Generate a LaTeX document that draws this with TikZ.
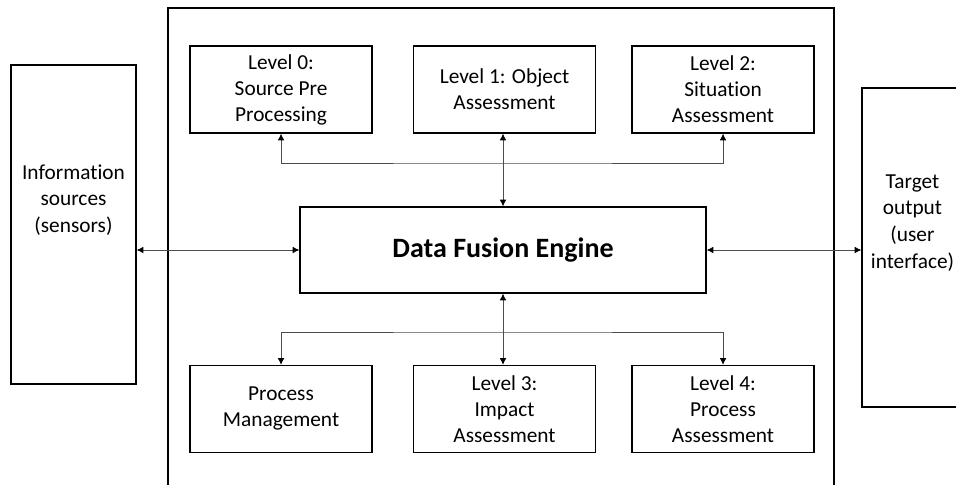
\documentclass[tikz,border=0pt]{standalone}
\usepackage{fontspec}
\setmainfont{Carlito}[Ligatures=NoCommon]
\usetikzlibrary{arrows.meta}

\begin{document}
\begin{tikzpicture}[x=0.75pt, y=-0.75pt]
        \tikzstyle{block} = [rectangle, draw, line width=1pt, minimum width=136.5pt, minimum height=65.25pt, align=center, inner sep=1pt, font=\fontsize{16}{19.5}\selectfont]
        \tikzstyle{engine} = [rectangle, draw, line width=1pt, minimum width=304.5pt, minimum height=64.5pt, font=\fontsize{21}{25}\selectfont\bfseries]
        \tikzstyle{side} = [rectangle, draw, line width=1pt, minimum height=239.25pt]
        \tikzstyle{side text} = [align=center, yshift=18.5pt, font=\fontsize{16}{20}\selectfont]
        \tikzstyle{line} = [draw, black!70, line width=0.6pt, {Latex[length=5pt,width=5pt,black]}-{Latex[length=5pt,width=5pt,black]}]

    \path [use as bounding box, clip] (0,0) rectangle (956,485);
    % frame round the fusion levels
    \draw [line width=1pt] (168,8) rectangle (834,500);

    \node [engine] (engine) at (503,250) {Data Fusion Engine};
    \node [block] (level 1) at (504.5,89.5) {Level 1: Object\\Assessment};
    \node [block, left of=level 1, node distance=167.6pt] (level 0) {Level 0:\\Source Pre\\Processing};
    \node [block, right of=level 1, node distance=163.9pt] (level 2) {Level 2:\\Situation\\Assessment};

    \node [block, below of=level 0, node distance=239.6pt] (process) {Process\\Management};
    \node [block, below of=level 1, node distance=239.6pt] (level 3) {Level 3:\\Impact\\Assessment};
    \node [block, below of=level 2, node distance=239.6pt] (level 4) {Level 4:\\Process\\Assessment};

    \node [side, minimum width=93.75pt, label={[side text]center:Information\\sources\\(sensors)}] (info) at (73.5,224.5) {};
    \node [side, minimum width=75.75pt, label={[side text]center:Target\\output\\(user\\interface)}] (target) at (912.5,247.5) {};

    \coordinate (upper bus) at (503,163);
    \coordinate (lower bus) at (503,332);

    \path [line] (level 0.south) |- (upper bus) -| (level 2.south);
    \path [line] (engine.north) -- (engine.north |- level 1.south);
    \path [line] (process.north) |- (lower bus) -| (level 4.north);
    \path [line] (engine.south) -- (engine.south |- level 3.north);
    \path [line] (engine.west) -- (engine.west -| info.east);
    \path [line] (engine.east) -- (engine.east -| target.west);
    \end{tikzpicture}
\end{document}
